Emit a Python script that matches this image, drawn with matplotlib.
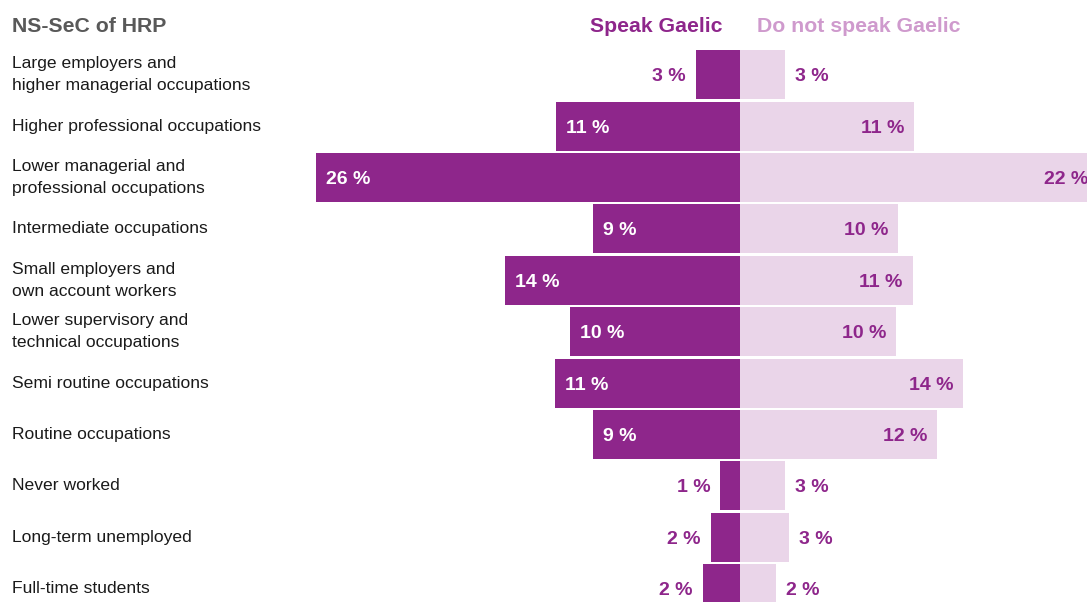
import matplotlib
matplotlib.use("Agg")
import matplotlib.pyplot as plt

categories = [
    "Large employers and\nhigher managerial occupations",
    "Higher professional occupations",
    "Lower managerial and\nprofessional occupations",
    "Intermediate occupations",
    "Small employers and\nown account workers",
    "Lower supervisory and\ntechnical occupations",
    "Semi routine occupations",
    "Routine occupations",
    "Never worked",
    "Long-term unemployed",
    "Full-time students",
]
speak = [2.7, 11.3, 26.0, 9.0, 14.4, 10.4, 11.35, 9.0, 1.2, 1.8, 2.3]
not_speak = [2.75, 10.7, 22.0, 9.7, 10.6, 9.6, 13.7, 12.1, 2.75, 3.0, 2.2]

DARK = "#8e268b"
LIGHT = "#ead5e9"
LIGHT_TEXT = "#cf9acd"
GREY = "#595959"

W, H = 1087, 602
plt.rcParams["font.family"] = ["Liberation Sans", "DejaVu Sans"]

fig = plt.figure(figsize=(W / 100, H / 100), dpi=100)
ax = fig.add_axes([0, 0, 1, 1])

# pixel geometry of the original: centre line at x=740, ~16.3 px per percent,
# first row centred at y~75, rows ~51.4 px apart
px_per_pct = 16.3
centre = 740
row0, pitch = 74.7, 51.4
ax.set_xlim(-centre / px_per_pct, (W - centre) / px_per_pct)
ax.set_ylim((H - row0) / pitch, -row0 / pitch)
ax.axis("off")

rows = list(range(len(categories)))
ax.barh(rows, [-v for v in speak], height=0.95, color=DARK, linewidth=0)
ax.barh(rows, not_speak, height=0.95, color=LIGHT, linewidth=0)

lab_font = dict(fontsize=14, fontweight="bold", va="center_baseline",
                textcoords="offset pixels", annotation_clip=False)
for i, (s, n) in enumerate(zip(speak, not_speak)):
    if s >= 5:
        ax.annotate(f"{round(s)} %", xy=(-s, i), xytext=(10, 0),
                    ha="left", color="white", **lab_font)
    else:
        ax.annotate(f"{round(s)} %", xy=(-s, i), xytext=(-10, 0),
                    ha="right", color=DARK, **lab_font)
    if n >= 5:
        ax.annotate(f"{round(n)} %", xy=(n, i), xytext=(-10, 0),
                    ha="right", color=DARK, **lab_font)
    else:
        ax.annotate(f"{round(n)} %", xy=(n, i), xytext=(10, 0),
                    ha="left", color=DARK, **lab_font)

    ax.text(12 / W, i, categories[i], transform=ax.get_yaxis_transform(),
            ha="left", va="center", fontsize=12.6, color="#1a1a1a", linespacing=1.6)

fig.text(12 / W, 1 - 32.5 / H, "NS-SeC of HRP", ha="left", va="baseline",
         fontsize=15.3, fontweight="bold", color=GREY)
fig.text(723 / W, 1 - 31.5 / H, "Speak Gaelic", ha="right", va="baseline",
         fontsize=15.3, fontweight="bold", color=DARK)
fig.text(757 / W, 1 - 31.5 / H, "Do not speak Gaelic", ha="left", va="baseline",
         fontsize=15.3, fontweight="bold", color=LIGHT_TEXT)

fig.savefig("out.png", dpi=100)
